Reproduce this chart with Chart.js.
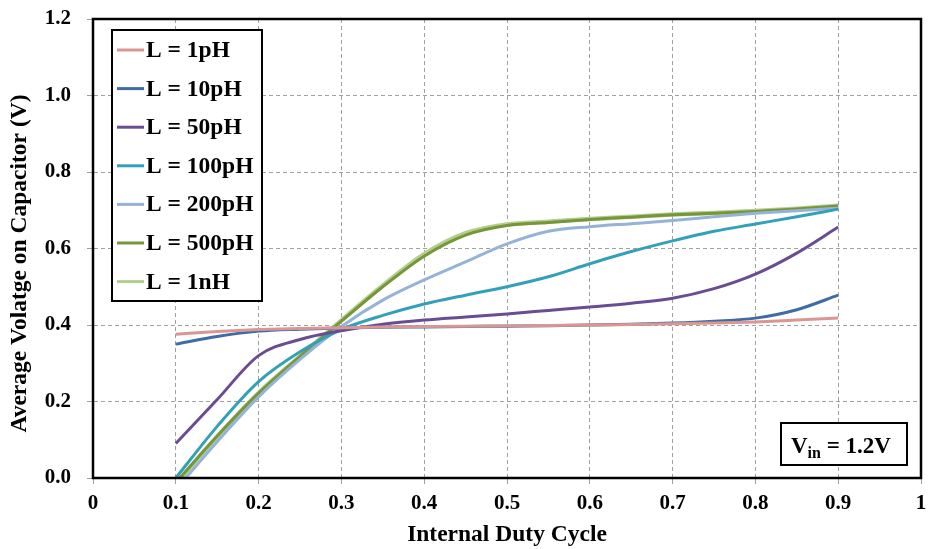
<!DOCTYPE html>
<html>
<head>
<meta charset="utf-8">
<script src="https://cdn.jsdelivr.net/npm/chart.js@4"></script>
<style>
  body { margin: 0; background: #fff; }
  #wrap { width: 929px; height: 549px; position: relative; }
</style>
</head>
<body>
<div id="wrap"><canvas id="lineChart"></canvas></div>
<script>
const dutyCycle = [0.1, 0.15, 0.2, 0.25, 0.3, 0.35, 0.4, 0.45, 0.5, 0.55, 0.6, 0.65, 0.7, 0.75, 0.8, 0.85, 0.9];
const seriesNames = ['L = 1pH', 'L = 10pH', 'L = 50pH', 'L = 100pH', 'L = 200pH', 'L = 500pH', 'L = 1nH'];
const l1pH   = [0.376, 0.383, 0.388, 0.391, 0.393, 0.395, 0.396, 0.397, 0.398, 0.399, 0.400, 0.401, 0.403, 0.405, 0.408, 0.413, 0.418];
const l10pH  = [0.350, 0.370, 0.384, 0.389, 0.392, 0.394, 0.395, 0.396, 0.397, 0.398, 0.400, 0.402, 0.405, 0.410, 0.418, 0.440, 0.478];
const l50pH  = [0.090, 0.205, 0.320, 0.362, 0.385, 0.402, 0.413, 0.421, 0.429, 0.438, 0.447, 0.457, 0.470, 0.495, 0.533, 0.588, 0.656];
const l100pH = [0.000, 0.135, 0.252, 0.330, 0.388, 0.425, 0.455, 0.478, 0.500, 0.526, 0.560, 0.592, 0.620, 0.645, 0.664, 0.683, 0.703];
const l200pH = [-0.030, 0.095, 0.212, 0.310, 0.396, 0.465, 0.518, 0.565, 0.612, 0.645, 0.657, 0.665, 0.673, 0.683, 0.692, 0.699, 0.705];
const l500pH = [-0.012, 0.110, 0.222, 0.318, 0.410, 0.500, 0.580, 0.635, 0.660, 0.668, 0.676, 0.682, 0.688, 0.692, 0.697, 0.703, 0.711];
const l1nH   = [-0.015, 0.108, 0.222, 0.318, 0.412, 0.503, 0.585, 0.640, 0.663, 0.670, 0.677, 0.683, 0.689, 0.693, 0.698, 0.704, 0.712];
const xTicks = [0, 0.1, 0.2, 0.3, 0.4, 0.5, 0.6, 0.7, 0.8, 0.9, 1];
const yTitle = 'Average Volatge on Capacitor (V)';

const allSeries = [l1pH, l10pH, l50pH, l100pH, l200pH, l500pH, l1nH];
const colors = ['#d99694', '#3e6ca6', '#6a4c93', '#33a0ba', '#95b3d7', '#77963a', '#b3cf8c'];
const widths = [3, 3, 3, 3, 3, 3, 4.5];
const fontFam = '"Liberation Serif", "Times New Roman", serif';

// legend drawn inside the plot box, top left
const boxLegend = {
  id: 'boxLegend',
  afterDraw(chart) {
    const ctx = chart.ctx, a = chart.chartArea;
    const x = a.left + 19, y = a.top + 11, w = 150, h = 271;
    ctx.save();
    ctx.fillStyle = '#fff';
    ctx.fillRect(x, y, w, h);
    ctx.strokeStyle = '#000';
    ctx.lineWidth = 2;
    ctx.strokeRect(x, y, w, h);
    ctx.font = 'bold 23.5px ' + fontFam;
    ctx.textBaseline = 'middle';
    chart.data.datasets.forEach((ds, i) => {
      const yy = y + 20 + i * 38.6;
      ctx.strokeStyle = ds.borderColor;
      ctx.lineWidth = 3;
      ctx.beginPath();
      ctx.moveTo(x + 5, yy);
      ctx.lineTo(x + 32, yy);
      ctx.stroke();
      ctx.fillStyle = '#000';
      ctx.fillText(ds.label, x + 34, yy + 1);
    });
    ctx.restore();
  }
};

// frame, y title and Vin note
const frame = {
  id: 'frame',
  afterDraw(chart) {
    const ctx = chart.ctx, a = chart.chartArea;
    ctx.save();
    ctx.strokeStyle = '#000';
    ctx.lineWidth = 2.5;
    ctx.strokeRect(a.left, a.top, a.right - a.left, a.bottom - a.top);

    ctx.save();
    ctx.translate(20, (a.top + a.bottom) / 2 + 15);
    ctx.rotate(-Math.PI / 2);
    ctx.font = 'bold 23.5px ' + fontFam;
    ctx.fillStyle = '#000';
    ctx.textAlign = 'center';
    ctx.textBaseline = 'middle';
    ctx.fillText(yTitle, 0, 0);
    ctx.restore();

    const bw = 126, bh = 42;
    const bx = a.right - 14 - bw, by = a.bottom - 13 - bh;
    ctx.fillStyle = '#fff';
    ctx.fillRect(bx, by, bw, bh);
    ctx.lineWidth = 2;
    ctx.strokeRect(bx, by, bw, bh);
    ctx.fillStyle = '#000';
    ctx.textBaseline = 'alphabetic';
    ctx.font = 'bold 23px ' + fontFam;
    let tx = bx + 10, ty = by + 30;
    ctx.fillText('V', tx, ty);
    tx += ctx.measureText('V').width;
    ctx.font = 'bold 16px ' + fontFam;
    ctx.fillText('in', tx, ty + 5);
    tx += ctx.measureText('in').width;
    ctx.font = 'bold 23px ' + fontFam;
    ctx.fillText(' = 1.2V', tx, ty);
    ctx.restore();
  }
};

document.addEventListener('DOMContentLoaded', function() {
  const datasets = seriesNames.map((name, i) => ({
    label: name,
    data: dutyCycle.map((d, j) => ({ x: d, y: allSeries[i][j] })),
    borderColor: colors[i],
    backgroundColor: colors[i],
    borderWidth: widths[i],
    pointRadius: 0,
    cubicInterpolationMode: 'monotone',
    fill: false
  }));

  new Chart(document.getElementById('lineChart').getContext('2d'), {
    type: 'line',
    data: { datasets: datasets },
    options: {
      responsive: true,
      maintainAspectRatio: false,
      animation: false,
      layout: { padding: { left: 0, right: 8, top: 19, bottom: 0 } },
      plugins: { legend: { display: false }, tooltip: { enabled: false } },
      scales: {
        x: {
          type: 'linear',
          min: 0,
          max: 1,
          afterBuildTicks(scale) { scale.ticks = xTicks.map(v => ({ value: v })); },
          afterFit(scale) {
            scale.height = 71;
            scale.paddingLeft = 0;
            scale.paddingRight = 0;
          },
          grid: { color: '#a0a0a0', lineWidth: 1, tickLength: 6, tickColor: '#a0a0a0', tickBorderDash: [] },
          border: { dash: [4, 3], color: '#000', width: 2 },
          ticks: {
            color: '#000',
            padding: 7,
            maxRotation: 0,
            font: { family: fontFam, size: 21, weight: 'bold' },
            callback: v => String(v)
          },
          title: {
            display: true,
            text: 'Internal Duty Cycle',
            color: '#000',
            padding: { top: 5, bottom: 0 },
            font: { family: fontFam, size: 23.5, weight: 'bold' }
          }
        },
        y: {
          type: 'linear',
          min: 0,
          max: 1.2,
          afterFit(scale) {
            scale.width = 93;
            scale.paddingTop = 0;
            scale.paddingBottom = 0;
          },
          grid: { color: '#a0a0a0', lineWidth: 1, tickLength: 6, tickColor: '#a0a0a0', tickBorderDash: [] },
          border: { dash: [4, 3], color: '#000', width: 2 },
          ticks: {
            stepSize: 0.2,
            color: '#000',
            padding: 16,
            font: { family: fontFam, size: 21, weight: 'bold' },
            callback: v => v.toFixed(1)
          },
          title: { display: false }
        }
      }
    },
    plugins: [boxLegend, frame]
  });
});
</script>
</body>
</html>
